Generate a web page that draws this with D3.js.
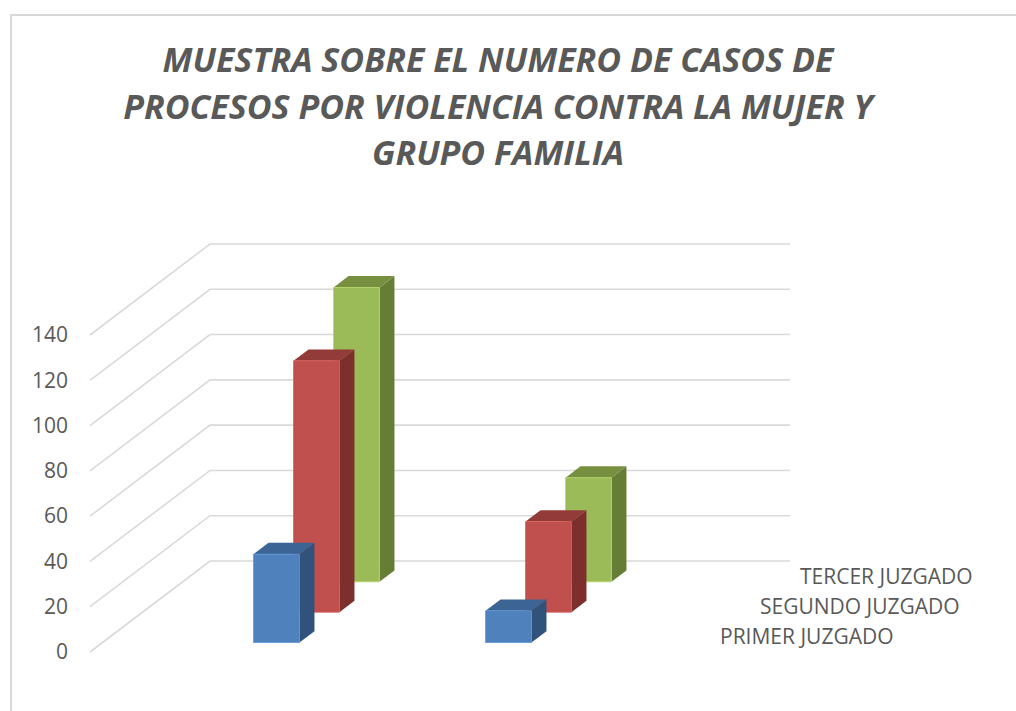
<!DOCTYPE html>
<html>
<head>
<meta charset="utf-8">
<script src="https://cdn.jsdelivr.net/npm/d3@7"></script>
<style>
  body { margin: 0; background: #fff; }
  svg { display: block; font-family: "Open Sans", sans-serif; }
</style>
</head>
<body>
<svg id="chart" width="1016" height="711"></svg>
<script>
// data
var titleLines = ["MUESTRA SOBRE EL NUMERO DE CASOS DE",
                  "PROCESOS POR VIOLENCIA CONTRA LA MUJER Y",
                  "GRUPO FAMILIA"];
var categories = ["Grupo 1", "Grupo 2"];
var seriesNames = ["PRIMER JUZGADO", "SEGUNDO JUZGADO", "TERCER JUZGADO"];
var primer = [39, 14];
var segundo = [111, 40];
var tercer = [130, 46];
var yTicks = [0, 20, 40, 60, 80, 100, 120, 140];

var seriesValues = [primer, segundo, tercer];
var faceColors = [
    { front: "#4f81bd", top: "#3c6494", side: "#31527b" },
    { front: "#c0504d", top: "#933b39", side: "#7d2f2d" },
    { front: "#9bbb59", top: "#76903f", side: "#667d36" }
];

var svg = d3.select("#chart");
var textColor = "#595959";
var gridColor = "#d9d9d9";

// chart frame
svg.append("path")
    .attr("d", "M11,720 L11,15 L1030,15")
    .attr("fill", "none")
    .attr("stroke", gridColor)
    .attr("stroke-width", 2);

// title
svg.append("g")
    .selectAll("text")
    .data(titleLines)
    .enter()
    .append("text")
    .attr("x", 498)
    .attr("y", function (d, i) { return 72 + i * 46.5; })
    .attr("text-anchor", "middle")
    .attr("font-size", 34)
    .attr("font-weight", "bold")
    .attr("font-style", "italic")
    .attr("fill", textColor)
    .text(function (d) { return d; });

// 3d geometry: front-left floor corner and depth vector
var ox = 90, width = 580;
var depthX = 120, depthY = -91;

var x = d3.scaleBand()
    .domain(categories)
    .range([0, width])
    .paddingInner(0.802)
    .paddingOuter(0.651);

var z = d3.scaleBand()
    .domain(seriesNames)
    .range([0, 1])
    .paddingInner(0.625)
    .paddingOuter(0.3125);

var y = d3.scaleLinear()
    .domain([0, 140])
    .range([652, 335]);

// project plot coords (x offset, value, depth fraction) to screen
function proj(px, v, d) {
    return [ox + px + d * depthX, y(v) + d * depthY];
}

// gridlines: side wall diagonal + back wall horizontal
var grid = svg.append("g");
yTicks.forEach(function (t) {
    var a = proj(0, t, 0), b = proj(0, t, 1), c = proj(width, t, 1);
    grid.append("path")
        .attr("d", d3.line()([a, b, c]))
        .attr("fill", "none")
        .attr("stroke", gridColor)
        .attr("stroke-width", 1.6);
});

// y tick labels
svg.append("g")
    .selectAll("text")
    .data(yTicks)
    .enter()
    .append("text")
    .attr("x", 68)
    .attr("y", function (d) { return y(d); })
    .attr("dy", "0.35em")
    .attr("text-anchor", "end")
    .attr("font-size", 21)
    .attr("fill", textColor)
    .text(function (d) { return d; });

// bars, back row first
var bars = svg.append("g");
for (var s = seriesNames.length - 1; s >= 0; s--) {
    var z0 = z(seriesNames[s]), z1 = z0 + z.bandwidth();
    categories.forEach(function (c, i) {
        var v = seriesValues[s][i];
        var x0 = x(c), x1 = x0 + x.bandwidth();
        var col = faceColors[s];
        var front = [proj(x0, 0, z0), proj(x1, 0, z0), proj(x1, v, z0), proj(x0, v, z0)];
        var side = [proj(x1, 0, z0), proj(x1, 0, z1), proj(x1, v, z1), proj(x1, v, z0)];
        var top = [proj(x0, v, z0), proj(x1, v, z0), proj(x1, v, z1), proj(x0, v, z1)];
        bars.append("path").attr("d", "M" + side.join("L") + "Z").attr("fill", col.side);
        bars.append("path").attr("d", "M" + top.join("L") + "Z").attr("fill", col.top);
        bars.append("path").attr("d", "M" + front.join("L") + "Z").attr("fill", col.front)
            .attr("stroke", d3.color(col.front).brighter(0.4)).attr("stroke-width", 0.8);
    });
}

// depth (series) labels at the right of the floor
svg.append("g")
    .selectAll("text")
    .data(seriesNames)
    .enter()
    .append("text")
    .attr("x", function (d) { return proj(width, 0, z(d) + z.bandwidth() / 2)[0] + 30; })
    .attr("y", function (d) { return proj(width, 0, z(d) + z.bandwidth() / 2)[1]; })
    .attr("dy", "0.35em")
    .attr("font-size", 21)
    .attr("fill", textColor)
    .text(function (d) { return d; });
</script>
</body>
</html>
